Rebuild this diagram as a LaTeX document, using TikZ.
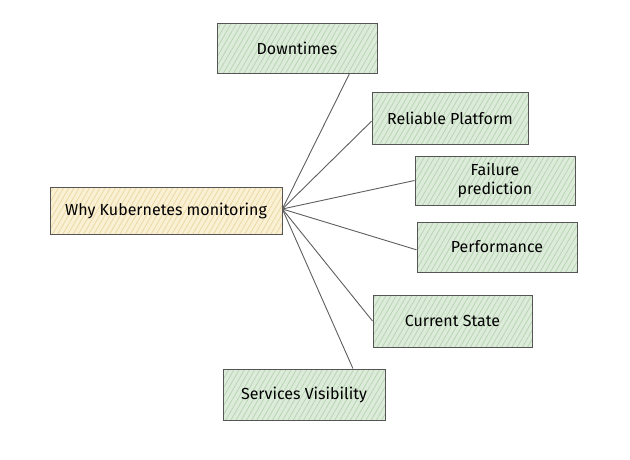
\documentclass[tikz,border=0pt]{standalone}
\usepackage{fontspec}
\setmainfont{Fira Sans}
\usetikzlibrary{patterns.meta}
\definecolor{gfill}{HTML}{DDECDA}
\definecolor{ghatch}{HTML}{B4D3AE}
\definecolor{yfill}{HTML}{FAF0D4}
\definecolor{yhatch}{HTML}{EAD6A0}
\definecolor{edge}{HTML}{555555}
\definecolor{conn}{HTML}{5E5E5E}
\begin{document}
\begin{tikzpicture}[x=1pt,y=-1pt,
  box/.style={draw=edge, line width=1pt, rectangle, inner sep=2pt, align=center,
    font=\fontsize{16}{18}\selectfont, text=black},
  greenbox/.style={box, preaction={fill=gfill},
    pattern={Lines[angle=60,distance=4.5pt,line width=0.7pt]}, pattern color=ghatch},
  yellowbox/.style={box, preaction={fill=yfill},
    pattern={Lines[angle=60,distance=4.5pt,line width=0.7pt]}, pattern color=yhatch},
  link/.style={draw=conn, line width=0.9pt}]
\useasboundingbox (0,0) rectangle (630,460);
\node[yellowbox, minimum width=232pt, minimum height=47pt] (why) at (166,210.5) {Why Kubernetes monitoring};
\node[greenbox, minimum width=160pt, minimum height=50pt] (dt) at (297,48.5) {Downtimes};
\node[greenbox, minimum width=156pt, minimum height=51pt] (rp) at (450,118.5) {Reliable Platform};
\node[greenbox, minimum width=160pt, minimum height=49pt, font=\fontsize{16}{19}\selectfont] (fp) at (495,180.5) {Failure\\prediction};
\node[greenbox, minimum width=160pt, minimum height=50pt] (pf) at (497,247) {Performance};
\node[greenbox, minimum width=159pt, minimum height=52pt] (cs) at (452.5,321) {Current State};
\node[greenbox, minimum width=162pt, minimum height=51pt] (sv) at (304,394.5) {Services Visibility};
\coordinate (o) at ([yshift=1.5pt]why.east);
\draw[link] (o) -- (dt.-26);
\draw[link] (o) -- (rp.182);
\draw[link] (o) -- (fp.west);
\draw[link] (o) -- (pf.182);
\draw[link] (o) -- (cs.west);
\draw[link] (o) -- (sv.28);
\end{tikzpicture}
\end{document}
